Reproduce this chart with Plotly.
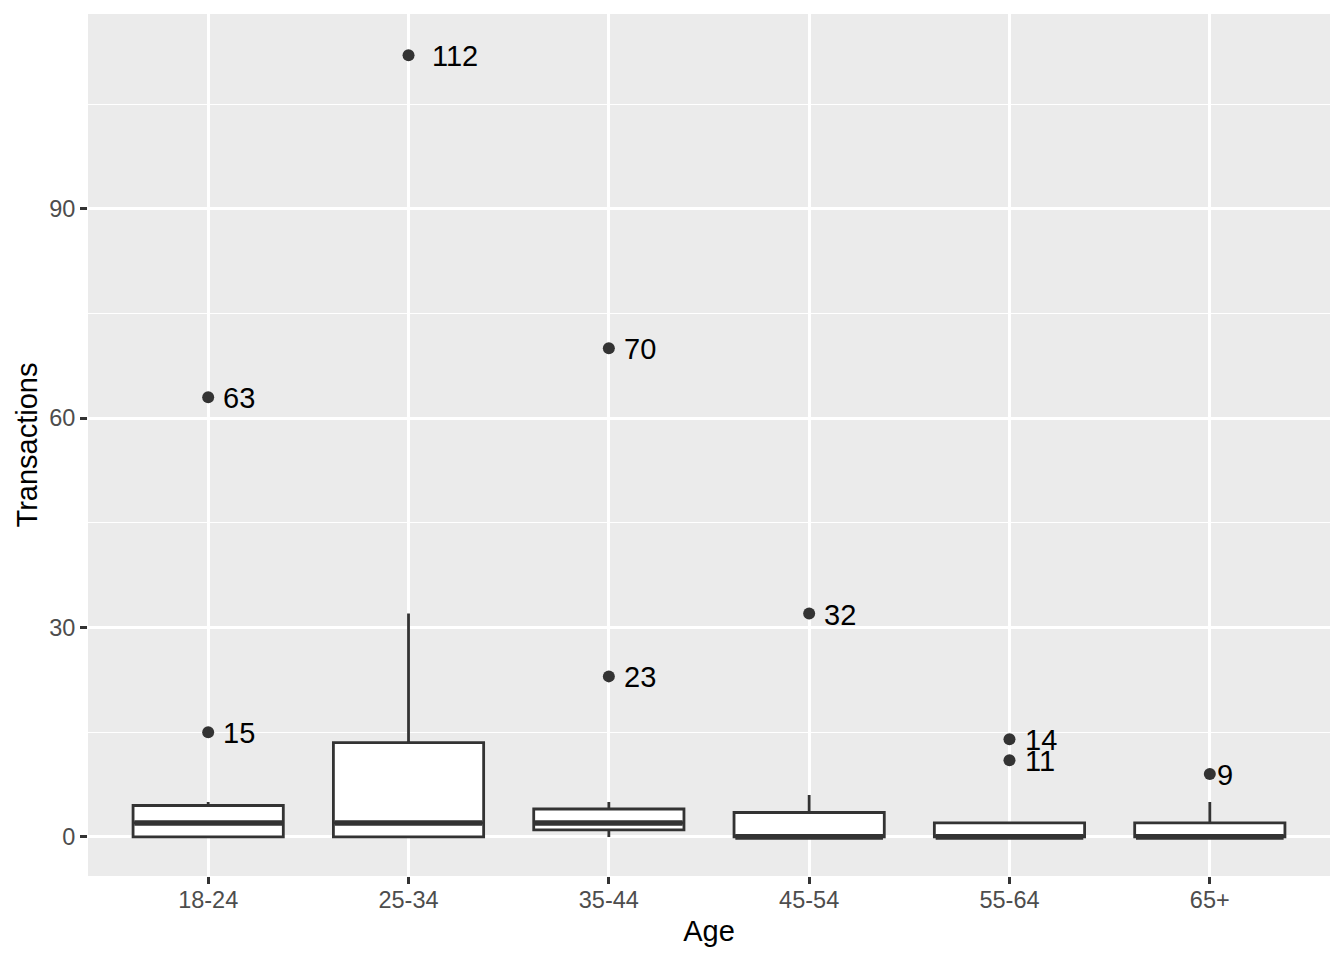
import plotly.graph_objects as go

ages = ["18-24", "25-34", "35-44", "45-54", "55-64", "65+"]
q1 = [0, 0, 1, 0, 0, 0]
median = [2, 2, 2, 0, 0, 0]
q3 = [4.5, 13.5, 4, 3.5, 2, 2]
lower = [0, 0, 0, 0, 0, 0]
upper = [5, 32, 5, 6, 2, 5]

outlier_age = ["18-24", "18-24", "25-34", "35-44", "35-44", "45-54", "55-64", "55-64", "65+"]
outlier_val = [63, 15, 112, 70, 23, 32, 14, 11, 9]

FONT = "Liberation Sans, Arial, Helvetica, sans-serif"
DARK = "#333333"

fig = go.Figure()
fig.add_trace(go.Box(
    x=ages, q1=q1, median=median, q3=q3, lowerfence=lower, upperfence=upper,
    fillcolor="white", line=dict(color=DARK, width=2.8), width=0.75,
    boxpoints=False, showlegend=False, whiskerwidth=0,
))
# thicker median line (ggplot fatten = 2)
fig.add_trace(go.Box(
    x=ages, q1=median, median=median, q3=median, lowerfence=median, upperfence=median,
    fillcolor="rgba(0,0,0,0)", line=dict(color=DARK, width=5.6), width=0.737,
    boxpoints=False, showlegend=False, whiskerwidth=0,
))
fig.add_trace(go.Scatter(
    x=outlier_age, y=outlier_val, mode="markers",
    marker=dict(color=DARK, size=12), showlegend=False,
))

for a, v in zip(outlier_age, outlier_val):
    s = str(v)
    fig.add_annotation(
        x=a, y=v, text=s, showarrow=False, xanchor="left", yanchor="middle",
        xshift=0.5 * len(s) * 0.556 * 29.3 - 3, yshift=-1,
        font=dict(family=FONT, size=29, color="black"),
    )

fig.update_layout(
    width=1336, height=952, boxmode="overlay",
    paper_bgcolor="white", plot_bgcolor="#EBEBEB",
    margin=dict(l=80, r=14, t=6, b=84, autoexpand=False),
    font=dict(family=FONT),
)
fig.update_xaxes(
    type="category", categoryorder="array", categoryarray=ages,
    range=[-0.6, 5.6], showgrid=True, gridcolor="white", gridwidth=2.8,
    ticks="outside", ticklen=7, tickwidth=2.8, tickcolor=DARK,
    ticklabelstandoff=-4,
    tickfont=dict(family=FONT, size=23.5, color="#4D4D4D"),
    title=dict(text="Age", font=dict(family=FONT, size=29, color="black"), standoff=8),
    zeroline=False, showline=False, automargin=False,
)
fig.update_yaxes(
    range=[-5.6, 117.9], tickvals=[0, 30, 60, 90], showgrid=True,
    gridcolor="white", gridwidth=2.8,
    minor=dict(dtick=15, tick0=0, showgrid=True, gridcolor="white", gridwidth=1.4),
    ticks="outside", ticklen=7, tickwidth=2.8, tickcolor=DARK,
    tickfont=dict(family=FONT, size=23.5, color="#4D4D4D"),
    title=dict(text="Transactions", font=dict(family=FONT, size=29, color="black"), standoff=3),
    zeroline=False, showline=False, automargin=False,
)

fig.write_html("out.html")
